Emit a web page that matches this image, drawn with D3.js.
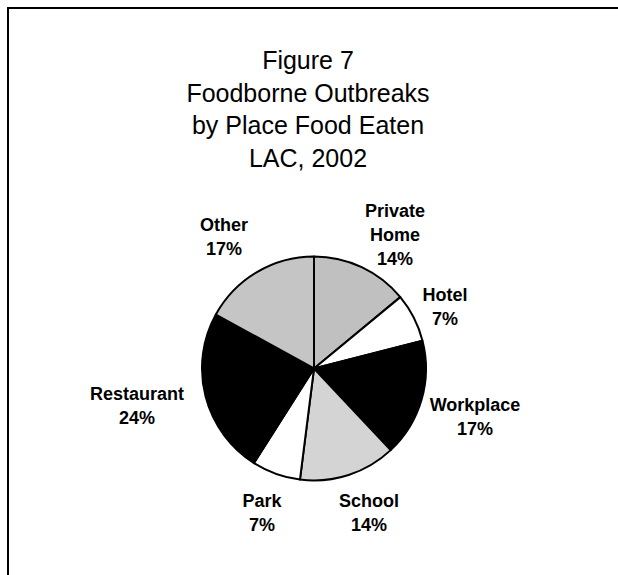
<!DOCTYPE html>
<html>
<head>
<meta charset="utf-8">
<script src="https://cdn.jsdelivr.net/npm/d3@7"></script>
<style>
  html, body { margin: 0; padding: 0; background: #fff; }
  svg { display: block; }
  text { font-family: Arial, "Liberation Sans", sans-serif; fill: #000; }
</style>
</head>
<body>
<svg id="chart" width="618" height="575"></svg>
<script>
// ---- data ----
const titleLines = ["Figure 7", "Foodborne Outbreaks", "by Place Food Eaten", "LAC, 2002"];
const categories = ["Private Home", "Hotel", "Workplace", "School", "Park", "Restaurant", "Other"];
const labelLines = [["Private", "Home"], ["Hotel"], ["Workplace"], ["School"], ["Park"], ["Restaurant"], ["Other"]];
const values = [14, 7, 17, 14, 7, 24, 17];

// ---- styles / layout (kept apart from data) ----
const fills = ["#c0c0c0", "#ffffff", "#000000", "url(#dots)", "#ffffff", "#000000", "url(#hlines)"];
const labelOffsets = [[81, -127.5], [131, -55.5], [161, 54], [55, 150.5], [-52, 150.5], [-177, 43], [-90, -125.5]];

const svg = d3.select("#chart");
const defs = svg.append("defs");

// horizontal line pattern (Other)
const ph = defs.append("pattern").attr("id", "hlines").attr("patternUnits", "userSpaceOnUse")
  .attr("width", 4).attr("height", 2);
ph.append("rect").attr("width", 4).attr("height", 2).attr("fill", "#e2e2e2");
ph.append("rect").attr("width", 4).attr("height", 1).attr("fill", "#a8a8a8");

// dotted pattern (School)
const pd = defs.append("pattern").attr("id", "dots").attr("patternUnits", "userSpaceOnUse")
  .attr("width", 2).attr("height", 2);
pd.append("rect").attr("width", 2).attr("height", 2).attr("fill", "#ffffff");
pd.append("rect").attr("x", 0).attr("y", 0).attr("width", 1).attr("height", 1).attr("fill", "#a8a8a8");
pd.append("rect").attr("x", 1).attr("y", 1).attr("width", 1).attr("height", 1).attr("fill", "#a8a8a8");

// frame
svg.append("rect").attr("x", 8).attr("y", 8).attr("width", 800).attr("height", 800)
  .attr("fill", "none").attr("stroke", "#000").attr("stroke-width", 2);

// title
const title = svg.append("text").attr("text-anchor", "middle").style("font-size", "25px");
titleLines.forEach((t, i) => {
  title.append("tspan").attr("x", 308).attr("y", 69 + i * 32.5).text(t);
});

// pie
const cx = 314, cy = 368.5, r = 112;
const pie = d3.pie().sort(null).value(d => d)(values);
const arc = d3.arc().innerRadius(0).outerRadius(r);
const g = svg.append("g").attr("transform", `translate(${cx},${cy})`);
g.selectAll("path").data(pie).join("path")
  .attr("d", arc)
  .attr("fill", (d, i) => fills[i])
  .attr("stroke", "#000")
  .attr("stroke-width", 2)
  .attr("stroke-linejoin", "round");

// labels
const fmt = d3.format(".0%");
const total = d3.sum(values);
const lh = 24;
categories.forEach((c, i) => {
  const lines = labelLines[i].concat([fmt(values[i] / total)]);
  const [dx, dy] = labelOffsets[i];
  const t = g.append("text").attr("text-anchor", "middle")
    .style("font-size", "18px").style("font-weight", "bold");
  lines.forEach((ln, k) => {
    t.append("tspan").attr("x", dx).attr("y", dy + (k - (lines.length - 1) / 2) * lh).text(ln);
  });
});
</script>
</body>
</html>
